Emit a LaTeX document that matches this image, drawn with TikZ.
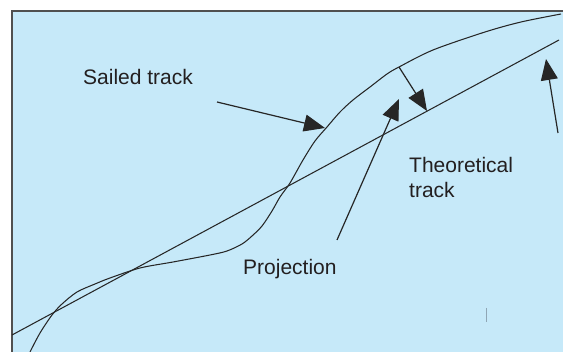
\documentclass[tikz,border=0pt]{standalone}
\usepackage{fontspec}
\setmainfont{Liberation Sans}
\usetikzlibrary{arrows.meta}
\definecolor{sea}{HTML}{C6E9F9}
\definecolor{ink}{HTML}{262626}
\definecolor{frame}{HTML}{505050}
\definecolor{txt}{HTML}{231F20}
\definecolor{faint}{HTML}{8FA6B5}
\tikzset{
  track/.style={draw=ink, line width=1.05pt, line join=round},
  pointer/.style={draw=ink, line width=1.2pt, -{Triangle[length=21pt,width=17pt]}},
  label/.style={anchor=base west, inner sep=0pt, text=txt, font=\fontsize{21}{25}\selectfont}
}
\begin{document}
\begin{tikzpicture}[x=1pt,y=-1pt]
\useasboundingbox (0,0) rectangle (563,352);
\fill[white] (0,0) rectangle (563,352);
\fill[sea] (12,11) rectangle (563,352);
\draw[frame, line width=1.6pt] (12,352) -- (12,11) -- (563,11);
% theoretical track
\coordinate (tA) at (12,335);
\coordinate (tB) at (559,40);
\draw[track] (tA) -- (tB);
% sailed track
\draw[track] plot[smooth, tension=0.5] coordinates {
 (30,352) (40,333) (52,315) (62,304) (77,292) (95,284) (110,278) (140,268)
 (173,262) (210,255) (227,251) (242,244) (252,236) (262,226) (272,211)
 (280,197) (290,183) (303,160) (315,141) (327,127) (340,112) (353,100)
 (370,87) (387,74) (399,67) (433,50) (485,32) (521,22) (561,14)};
% labels
\node[label] (sailed) at (83,85) {Sailed track};
\node[label] (theo) at (409,173) {Theoretical};
\node[label] (theo2) at (409,198) {track};
\node[label] (proj) at (243,275) {Projection};
% arrows
\coordinate (s1) at (217,102);
\coordinate (s2) at (325,128);
\draw[pointer] (s1) -- (s2);
\coordinate (p1) at (399,67);
\coordinate (p2) at (427,111);
\draw[pointer] (p1) -- (p2);
\coordinate (q1) at (337,240);
\coordinate (q2) at (399,99);
\draw[pointer] (q1) -- (q2);
\coordinate (r1) at (558,133);
\coordinate (r2) at (546,59);
\draw[pointer] (r1) -- (r2);
% faint tick
\coordinate (k1) at (486.5,308);
\coordinate (k2) at (486.5,322);
\draw[faint, line width=0.8pt] (k1) -- (k2);
\end{tikzpicture}
\end{document}
